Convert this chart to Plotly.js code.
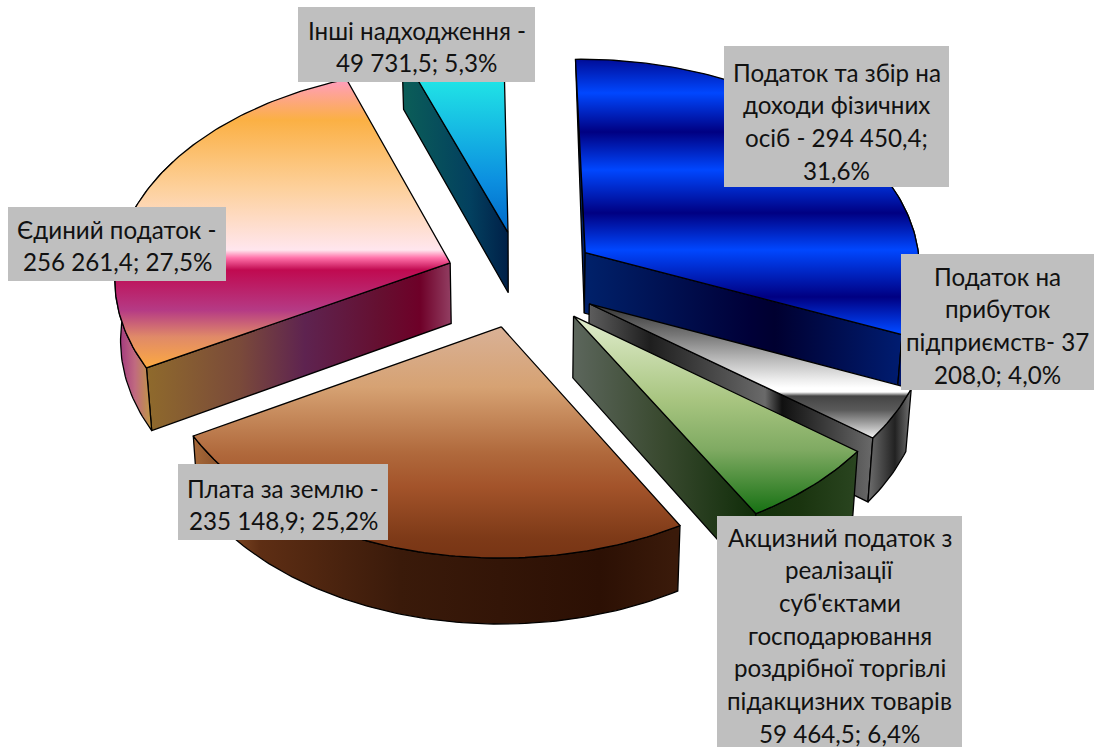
<!DOCTYPE html>
<html><head><meta charset="utf-8">
<script src="https://cdn.plot.ly/plotly-3.0.1.min.js"></script>
<style>html,body{margin:0;padding:0;background:#fff}#c{width:1094px;height:747px}</style>
</head><body><div id="c"></div><script>
// ---- data ----
const categories=["Податок та збір на доходи фізичних осіб","Податок на прибуток підприємств","Акцизний податок з реалізації суб'єктами господарювання роздрібної торгівлі підакцизних товарів","Плата за землю","Єдиний податок","Інші надходження"];
const values=[294450.4,37208.0,59464.5,235148.9,256261.4,49731.5];
const labelLines=[
 ["Податок та збір на","доходи фізичних","осіб - 294 450,4;","31,6%"],
 ["Податок на","прибуток","підприємств- 37","208,0; 4,0%"],
 ["Акцизний податок з","реалізації","суб'єктами","господарювання","роздрібної торгівлі","підакцизних товарів","59 464,5; 6,4%"],
 ["Плата за землю -","235 148,9; 25,2%"],
 ["Єдиний податок -","256 261,4; 27,5%"],
 ["Інші надходження -","49 731,5; 5,3%"]
];
// ---- label layout ----
const labelBoxes=[[724,46,949,187],[901,254,1094,390],[717,516,962,747],[178,464,388,540],[8,207,226,281],[298,7,535,82]];
const labelFirstY=[72,276,537,488,229,30];
const labelStep=32.7;
const fontFamily="Lato, 'Open Sans', sans-serif", fontSize=24.2;
// ---- projection ----
const startAngle=-1,gcx=522,gcy=279.5,explode=77,R=336,ratio=0.628,persp=0.0666,depth=61,converge=0.986;
const drawOrder=[5,0,4,1,2,3];
// ---- gradient styles: [pixel position, colour] ----
const topStops=[
 [[52,"#000082"],[93,"#0047FF"],[132,"#000082"],[170,"#0047FF"],[213,"#000082"],[250,"#0047FF"],[297,"#000082"],[332,"#0047FF"]],
 [[305,"#333333"],[335,"#777777"],[360,"#bbbbbb"],[380,"#eeeeee"],[388,"#ffffff"],[392,"#ffffff"],[396,"#444444"],[410,"#5a5a5a"],[425,"#aaaaaa"],[437,"#eeeeee"]],
 [[318,"#E0ECCC"],[400,"#A8C580"],[450,"#7FAA62"],[514,"#157012"]],
 [[327,"#D9B196"],[387,"#D6A273"],[453,"#B0693C"],[487,"#A3532A"],[537,"#7E3A18"],[560,"#773414"]],
 [[82,"#FF9EB8"],[120,"#FBB044"],[187,"#FDD09A"],[250,"#FFE6EE"],[258,"#FF6FA8"],[270,"#C00A50"],[310,"#B53A85"],[337,"#E08A68"],[366,"#FBA843"]],
 [[50,"#22F0E8"],[82,"#20E2E6"],[180,"#0C90E0"],[232,"#0068C8"]]
];
const faceStops=[
 [[585,"#00216A"],[750,"#000038"],[775,"#000030"],[900,"#001C70"]],
 [[590,"#5c5c5c"],[650,"#1e1e1e"],[765,"#6a6a6a"],[782,"#101010"],[873,"#6a6a6a"]],
 [[573,"#5C665C"],[660,"#3A4A30"],[757,"#0F2C08"]],
 [[192,"#8a5028"],[673,"#3a1a0a"]],
 [[147,"#8F6A2C"],[240,"#7A4A3A"],[305,"#5E2350"],[380,"#650F30"],[420,"#6E0028"],[451,"#923E62"]],
 [[403,"#0B5E58"],[470,"#03405F"],[508,"#002048"]]
];
const arcStops=[
 [[895,"#001C70"],[918,"#000060"]],
 [[868,"#6e6e6e"],[895,"#222222"],[912,"#777777"]],
 [[757,"#12300a"],[800,"#1a340f"],[858,"#2A4520"]],
 [[192,"#A86A3A"],[260,"#5E2E14"],[400,"#3A1A0A"],[600,"#2C1004"],[673,"#3A1A0A"]],
 [[116,"#9C2D7E"],[135,"#C06A80"],[152,"#C09A40"]],
 [[400,"#0B5E58"],[420,"#0B5E58"]]
];
// ---- build ----
const total=values.reduce((a,b)=>a+b,0);
const rad=d=>d*Math.PI/180;
let cum=startAngle;
const slices=values.map(v=>{const a0=cum;cum+=v/total*360;return {a0,a1:cum,bis:(a0+cum)/2};});
function pt(sl,ang,rr,low){
 const X=explode*Math.sin(rad(sl.bis))+rr*Math.sin(rad(ang));
 const V=-explode*Math.cos(rad(sl.bis))-rr*Math.cos(rad(ang));
 const s=1+persp*V/R;
 let x=gcx+X*s,y=gcy+ratio*V*s;
 if(low){x=gcx+(x-gcx)*converge;y+=depth*s;}
 return [x,y];
}
function grad(type,stops){
 const a=stops[0][0],b=stops[stops.length-1][0];
 return {type,start:a,stop:b,colorscale:stops.map(s=>[(s[0]-a)/(b-a),s[1]])};
}
function poly(points,g){
 const xs=points.map(p=>p[0]),ys=points.map(p=>p[1]);
 xs.push(xs[0]);ys.push(ys[0]);
 return {type:"scatter",mode:"lines",x:xs,y:ys,fill:"toself",fillgradient:g,
  line:{color:"#000000",width:1.3},hoverinfo:"skip",showlegend:false};
}
const traces=[];
drawOrder.forEach(i=>{
 const sl=slices[i];
 const sa0=Math.sin(rad(sl.a0)),sa1=Math.sin(rad(sl.a1));
 if(sa0<0){
  const pts=[pt(sl,0,0,false),pt(sl,sl.a0,R,false)];
  if(sa0<-0.1) pts.push(pt(sl,sl.a0,R,true));
  pts.push(pt(sl,0,0,true));
  traces.push(poly(pts,grad("horizontal",faceStops[i])));
 }
 if(sa1>0) traces.push(poly([pt(sl,0,0,false),pt(sl,sl.a1,R,false),pt(sl,sl.a1,R,true),pt(sl,0,0,true)],grad("horizontal",faceStops[i])));
 // side wall: run past the silhouette so the wall tucks under the top face
 const lo=Math.max(sl.a0,70),hi=Math.min(sl.a1,300);
 if(hi>lo){
  const up=[],dn=[];
  for(let a=lo;a<hi;a+=1){up.push(pt(sl,a,R,false));dn.unshift(pt(sl,a,R,true));}
  up.push(pt(sl,hi,R,false));dn.unshift(pt(sl,hi,R,true));
  traces.push(poly(up.concat(dn),grad("horizontal",arcStops[i])));
 }
 const top=[pt(sl,0,0,false)];
 for(let a=sl.a0;a<sl.a1;a+=1) top.push(pt(sl,a,R,false));
 top.push(pt(sl,sl.a1,R,false));
 traces.push(poly(top,grad("vertical",topStops[i])));
});
const shapes=labelBoxes.map(b=>({type:"rect",layer:"above",xref:"x",yref:"y",x0:b[0],y0:b[1],x1:b[2],y1:b[3],fillcolor:"#BFBFBF",line:{width:0}}));
const annotations=[];
labelLines.forEach((lines,i)=>{
 const b=labelBoxes[i];
 lines.forEach((t,j)=>annotations.push({xref:"x",yref:"y",x:(b[0]+b[2])/2,y:labelFirstY[i]+j*labelStep,text:t,showarrow:false,xanchor:"center",yanchor:"middle",font:{family:fontFamily,size:fontSize,color:"#111111"}}));
});
Plotly.newPlot("c",traces,{
 width:1094,height:747,margin:{l:0,r:0,t:0,b:0},paper_bgcolor:"#ffffff",plot_bgcolor:"#ffffff",showlegend:false,
 xaxis:{range:[0,1094],visible:false,fixedrange:true},
 yaxis:{range:[747,0],visible:false,fixedrange:true},
 shapes,annotations
},{displayModeBar:false,staticPlot:true});
</script></body></html>
